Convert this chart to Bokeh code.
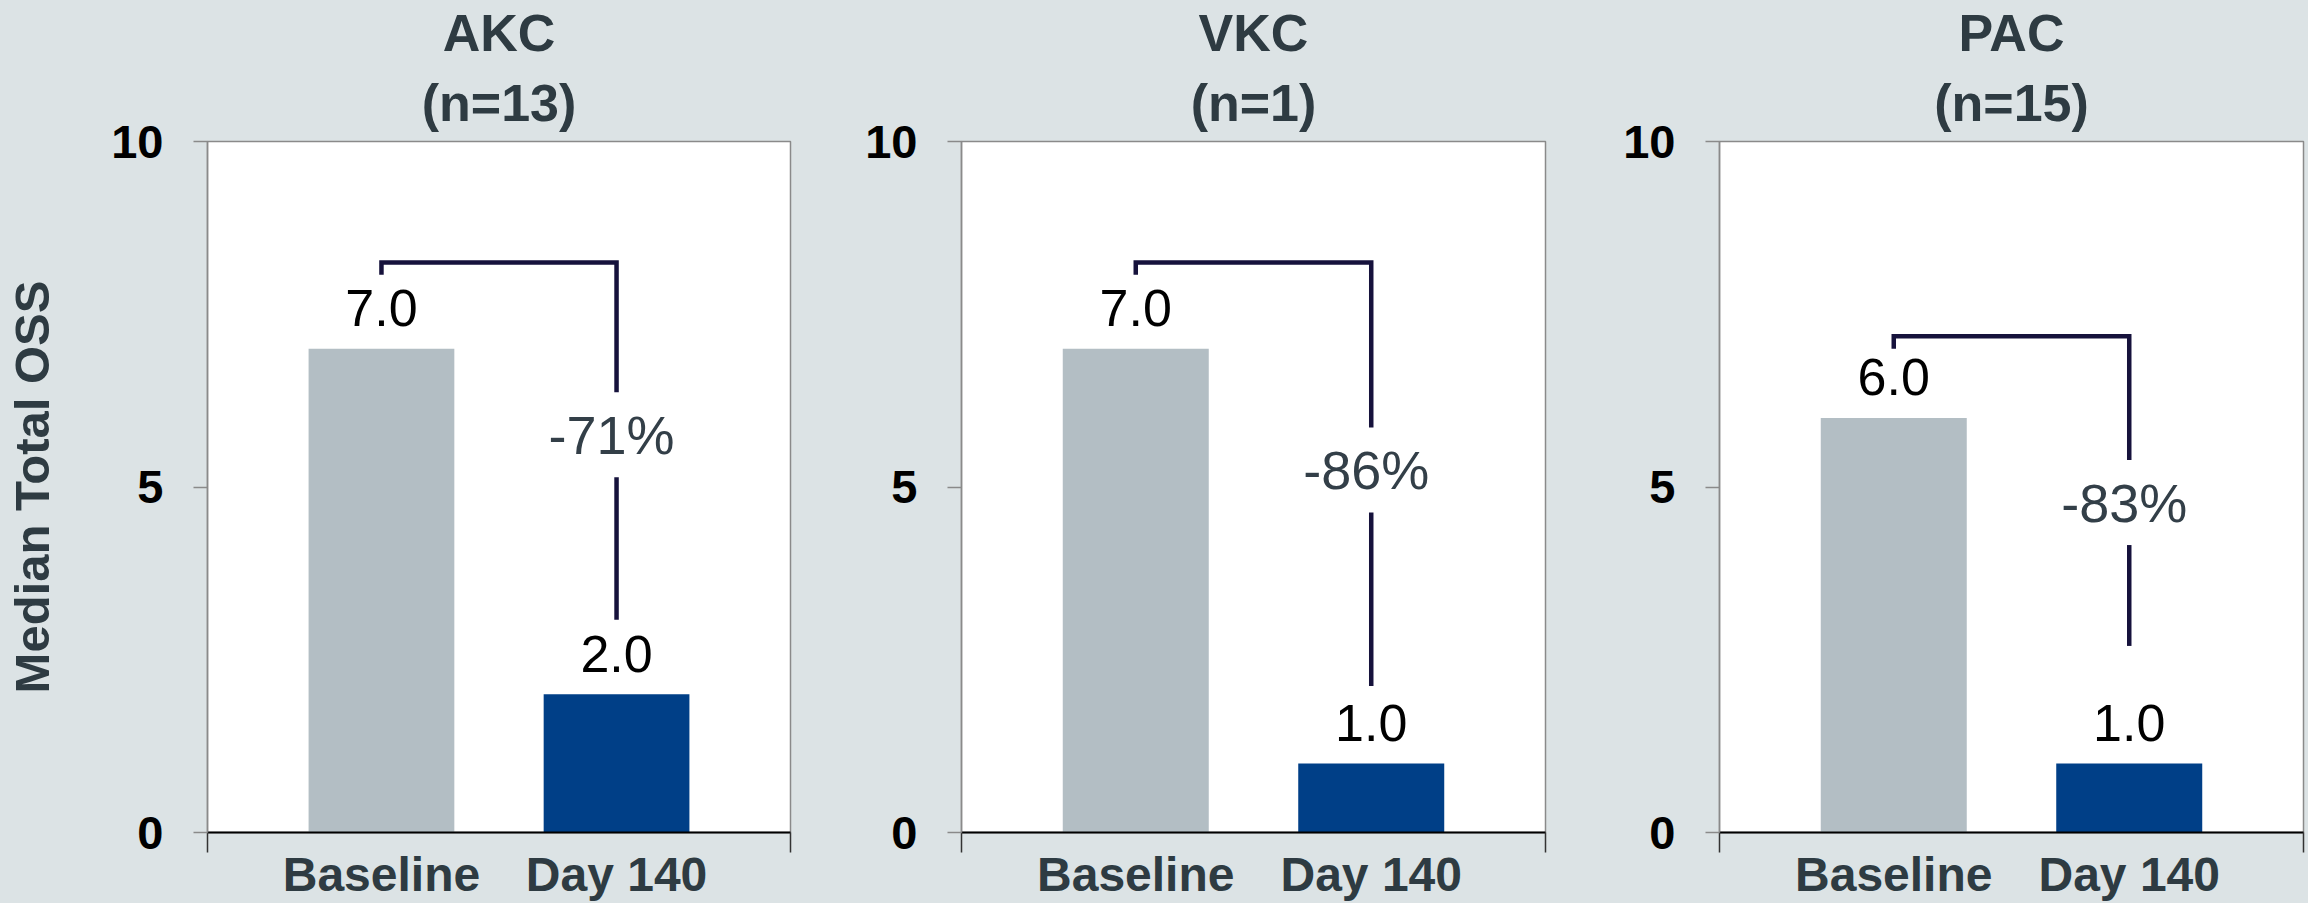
from bokeh.plotting import figure
from bokeh.layouts import row
from bokeh.models import Range1d, FixedTicker, Title, ColumnDataSource
from bokeh.core.properties import value
from bokeh.embed import file_html
from bokeh.resources import INLINE

# ---------------- data ----------------
groups = ["AKC", "VKC", "PAC"]
group_n = [13, 1, 15]
timepoints = ["Baseline", "Day 140"]
baseline_oss = [7.0, 7.0, 6.0]
day140_oss = [2.0, 1.0, 1.0]
y_ticks = [0, 5, 10]

# bracket annotation geometry (data units)
bracket_top = [8.25, 8.25, 7.18]
bracket_bottom = [3.08, 2.12, 2.70]
pct_label_y = [5.75, 5.24, 4.77]

# ---------------- style ----------------
FONT = "Liberation Sans"
BG = "#DCE3E5"
TXT = "#2E3B42"
BAR_COLORS = ["#B3BEC4", "#003F87"]
BRACKET = "#16123C"
PCT_COLOR = "#333F48"

fig_widths = [800, 755, 753]
left_borders = [207, 161, 164]
right_borders = [10, 10, 5]
FIG_H = 903
TOP_B = 141
BOTTOM_B = 71
X_PAD = 0.24
LABEL_LIFT = 0.59   # centre of value label above bar top (data units)
cat_x = [i + 0.5 for i in range(len(timepoints))]
x_lo, x_hi = -X_PAD, len(timepoints) + X_PAD

figs = []
for k, name in enumerate(groups):
    p = figure(width=fig_widths[k], height=FIG_H,
               x_range=Range1d(x_lo, x_hi), y_range=Range1d(0, 10),
               output_backend="svg", toolbar_location=None,
               min_border_left=left_borders[k], min_border_right=right_borders[k],
               min_border_top=TOP_B, min_border_bottom=BOTTOM_B,
               background_fill_color="white", border_fill_color=BG,
               outline_line_color="#8A8A8A", outline_line_width=1.5)
    p.xgrid.visible = False
    p.ygrid.visible = False

    # x axis: category names at centers, boundary ticks at the edges
    xa = p.xaxis[0]
    xa.ticker = FixedTicker(ticks=cat_x, minor_ticks=[x_lo, x_hi])
    xa.major_label_overrides = {cx: c for cx, c in zip(cat_x, timepoints)}
    xa.axis_line_color = "black"
    xa.axis_line_width = 2
    xa.major_tick_out = 0
    xa.major_tick_in = 0
    xa.minor_tick_out = 20
    xa.minor_tick_in = 0
    xa.minor_tick_line_color = "#333333"
    xa.minor_tick_line_width = 1.5
    xa.major_label_standoff = -5
    xa.major_label_text_font = FONT
    xa.major_label_text_font_size = "48px"
    xa.major_label_text_font_style = "bold"
    xa.major_label_text_color = TXT

    ya = p.yaxis[0]
    ya.ticker = FixedTicker(ticks=y_ticks)
    ya.axis_line_color = "#8A8A8A"
    ya.axis_line_width = 1.5
    ya.major_tick_out = 14
    ya.major_tick_in = 0
    ya.major_tick_line_color = "#8A8A8A"
    ya.major_tick_line_width = 1.5
    ya.minor_tick_line_color = None
    ya.major_label_standoff = 30
    ya.major_label_text_font = FONT
    ya.major_label_text_font_size = "47px"
    ya.major_label_text_font_style = "bold"
    ya.major_label_text_color = "black"
    if k == 0:
        ya.axis_label = "Median Total OSS"
        ya.axis_label_text_font = FONT
        ya.axis_label_text_font_size = "49px"
        ya.axis_label_text_font_style = "bold"
        ya.axis_label_text_color = TXT
        ya.axis_label_standoff = 49

    vals = [baseline_oss[k], day140_oss[k]]
    src = ColumnDataSource(dict(x=cat_x, top=vals, color=BAR_COLORS,
                                ly=[v + LABEL_LIFT for v in vals],
                                label=[f"{v:.1f}" for v in vals]))
    p.vbar(x="x", top="top", width=0.62, fill_color="color", line_color=None, source=src)
    p.text(x="x", y="ly", text="label", source=src,
           text_font=value(FONT), text_font_size="52px", text_color="black",
           text_align="center", text_baseline="middle")

    # bracket with percent change
    x0, x1 = cat_x[0], cat_x[1]
    top = bracket_top[k]
    ly = pct_label_y[k]
    p.line([x0, x0, x1, x1], [top - 0.18, top, top, ly + 0.62],
           line_color=BRACKET, line_width=4.5, line_join="miter", line_cap="butt")
    p.line([x1, x1], [ly - 0.61, bracket_bottom[k]],
           line_color=BRACKET, line_width=4.5, line_cap="butt")
    pct = round((vals[1] - vals[0]) / vals[0] * 100)
    p.text(x=[x1], y=[ly], text=[f"{pct}%"], x_offset=-5,
           text_font=value(FONT), text_font_size="54px", text_color=PCT_COLOR,
           text_align="center", text_baseline="middle")

    # panel titles (two lines)
    p.add_layout(Title(text=f"(n={group_n[k]})", align="center", standoff=20,
                       text_font=FONT, text_font_size="52px", text_font_style="bold",
                       text_color=TXT), "above")
    p.add_layout(Title(text=name, align="center", standoff=0,
                       text_font=FONT, text_font_size="52px", text_font_style="bold",
                       text_color=TXT), "above")
    figs.append(p)

layout = row(*figs, spacing=0, styles={"background-color": BG})
open("out.html", "w").write(file_html(layout, INLINE))
